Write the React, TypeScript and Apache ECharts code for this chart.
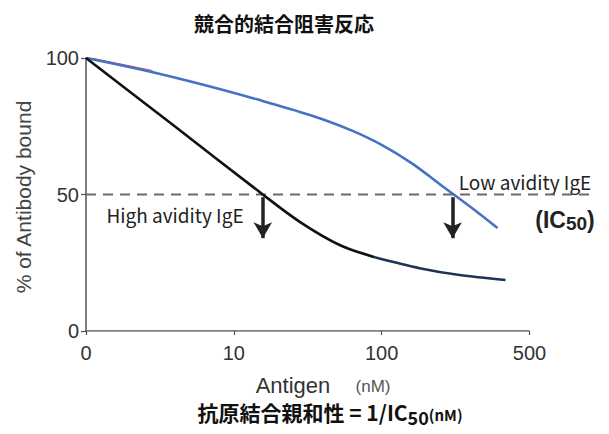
import React, { useEffect, useRef } from 'react';
import * as echarts from 'echarts';

// x positions are in "tick units": 0 -> "0", 1 -> "10", 2 -> "100", 3 -> "500"
const xTickValues = [0, 1, 2, 3];
const xTickLabels = ['0', '10', '100', '500'];
const yTicks = [0, 50, 100];

const highX = [0, 0.6, 1.196, 1.446, 1.716, 1.953];
const highY = [100, 75, 50, 40, 31.5, 27];
const highTailX = [1.953, 2.257, 2.527, 2.838];
const highTailY = [27, 23, 20.5, 18.7];
const lowX = [0, 0.4, 0.8, 1.2, 1.4, 1.6, 1.8, 2.0, 2.2, 2.4, 2.6, 2.784];
const lowY = [100, 95.4, 90.1, 84.2, 81, 77.6, 73.4, 68.2, 61.6, 53.5, 45.5, 37.7];
const redX = [0, 0.45];
const redY = [100.4, 95.4];

const ic50Level = 50;
const highIC50 = 1.196;
const lowIC50 = 2.48;
const arrowTip = 34;
const dashEnd = 3.43;

const zip = (xs: number[], ys: number[]) => xs.map((x, i) => [x, ys[i]]);

const SANS = '"Liberation Sans", Arial, sans-serif';
const JP = '"Noto Sans CJK JP", sans-serif';

export default function App() {
  const ref = useRef<HTMLDivElement>(null);
  useEffect(() => {
    if (!ref.current) return;
    const chart = echarts.init(ref.current, undefined, { renderer: 'svg' });
    chart.setOption({
      animation: false,
      backgroundColor: '#ffffff',
      grid: { left: 86, top: 58, right: 16, bottom: 103 },
      xAxis: {
        type: 'value',
        min: 0,
        max: dashEnd,
        axisLine: { show: false },
        splitLine: { show: false },
        axisTick: {
          show: true,
          customValues: xTickValues,
          length: 4,
          lineStyle: { color: '#555', width: 1.2 },
        },
        axisLabel: {
          customValues: xTickValues,
          formatter: (v: number) => {
            const i = xTickValues.indexOf(v);
            return i >= 0 ? xTickLabels[i] : '';
          },
          margin: 12,
          fontSize: 20,
          color: '#333',
          fontFamily: SANS,
        },
      },
      yAxis: {
        type: 'value',
        min: 0,
        max: 100,
        interval: 50,
        splitLine: { show: false },
        axisLine: { show: true, lineStyle: { color: '#555', width: 1.5 } },
        axisTick: { show: true, length: 5, lineStyle: { color: '#555', width: 1.2 } },
        axisLabel: {
          fontSize: 20,
          color: '#333',
          fontFamily: SANS,
          margin: 7,
          formatter: (v: number) => (yTicks.includes(v) ? String(v) : ''),
        },
      },
      series: [
        {
          name: 'xaxisline',
          type: 'line',
          data: [[xTickValues[0], 0], [xTickValues[xTickValues.length - 1], 0]],
          symbol: 'none',
          lineStyle: { color: '#555', width: 1.5 },
          silent: true,
          z: 1,
        },
        {
          name: 'ic50',
          type: 'line',
          data: [[0, ic50Level], [dashEnd, ic50Level]],
          symbol: 'none',
          lineStyle: { color: '#6a6a6a', width: 2, type: [10, 7] },
          silent: true,
          z: 1,
        },
        {
          name: 'red',
          type: 'line',
          data: zip(redX, redY),
          symbol: 'none',
          lineStyle: { color: '#d04848', width: 1 },
          z: 2,
        },
        {
          name: 'Low avidity IgE',
          type: 'line',
          data: zip(lowX, lowY),
          smooth: 0.4,
          symbol: 'none',
          lineStyle: { color: '#4472c4', width: 2.6 },
          z: 3,
        },
        {
          name: 'High avidity IgE',
          type: 'line',
          data: zip(highX, highY),
          smooth: 0.3,
          symbol: 'none',
          lineStyle: { color: '#111111', width: 2.6 },
          z: 4,
          markLine: {
            silent: true,
            symbol: ['none', 'arrow'],
            symbolSize: [14, 16],
            label: { show: false },
            lineStyle: { color: '#222', width: 3.5, type: 'solid' },
            data: [
              [
                { coord: [highIC50, ic50Level - 1] },
                { coord: [highIC50, arrowTip] },
              ],
              [
                { coord: [lowIC50, ic50Level - 1] },
                { coord: [lowIC50, arrowTip] },
              ],
            ],
          },
        },
        {
          name: 'High tail',
          type: 'line',
          data: zip(highTailX, highTailY),
          smooth: 0.3,
          symbol: 'none',
          lineStyle: { color: '#1d3452', width: 2.6 },
          z: 4,
        },
      ],
      graphic: [
        {
          type: 'text',
          x: 284,
          y: 23,
          style: {
            text: '競合的結合阻害反応',
            fontSize: 20,
            fontWeight: 'bold',
            fontFamily: JP,
            fill: '#111',
            textAlign: 'center',
            textVerticalAlign: 'middle',
          },
        },
        {
          type: 'text',
          x: 23,
          y: 197,
          rotation: Math.PI / 2,
          style: {
            text: '% of Antibody bound',
            fontSize: 21,
            fontFamily: SANS,
            fill: '#444',
            textAlign: 'center',
            textVerticalAlign: 'middle',
          },
        },
        {
          type: 'text',
          x: 293,
          y: 385,
          style: {
            text: 'Antigen',
            fontSize: 22,
            fontFamily: SANS,
            fill: '#333',
            textAlign: 'center',
            textVerticalAlign: 'middle',
          },
        },
        {
          type: 'text',
          x: 373,
          y: 386,
          style: {
            text: '(nM)',
            fontSize: 17,
            fontFamily: SANS,
            fill: '#555',
            textAlign: 'center',
            textVerticalAlign: 'middle',
          },
        },
        {
          type: 'text',
          x: 330,
          y: 412,
          style: {
            text: '抗原結合親和性 = 1/IC{s|50}{n|(nM)}',
            fontSize: 21,
            fontWeight: 'bold',
            fontFamily: JP,
            fill: '#111',
            textAlign: 'center',
            textVerticalAlign: 'middle',
            rich: {
              s: { fontSize: 18, fontWeight: 'bold', fontFamily: JP, fill: '#111', padding: [9, 0, 0, 0] },
              n: { fontSize: 15, fontWeight: 'bold', fontFamily: JP, fill: '#111', padding: [5, 0, 0, 0] },
            },
          },
        },
        {
          type: 'text',
          x: 525,
          y: 181,
          style: {
            text: 'Low avidity IgE',
            fontSize: 19,
            fontFamily: JP,
            fill: '#222',
            textAlign: 'center',
            textVerticalAlign: 'middle',
          },
        },
        {
          type: 'text',
          x: 175,
          y: 214,
          style: {
            text: 'High avidity IgE',
            fontSize: 19,
            fontFamily: JP,
            fill: '#222',
            textAlign: 'center',
            textVerticalAlign: 'middle',
          },
        },
        {
          type: 'text',
          x: 565,
          y: 220,
          style: {
            text: '(IC{s|50})',
            fontSize: 23,
            fontWeight: 'bold',
            fontFamily: SANS,
            fill: '#222',
            textAlign: 'center',
            textVerticalAlign: 'middle',
            rich: {
              s: { fontSize: 19, fontWeight: 'bold', fontFamily: SANS, fill: '#222', padding: [6, 0, 0, 0] },
            },
          },
        },
      ],
    });
    return () => chart.dispose();
  }, []);
  return (
    <div
      ref={ref}
      style={{ position: 'fixed', left: 0, top: 0, width: 609, height: 434, background: '#fff' }}
    />
  );
}
